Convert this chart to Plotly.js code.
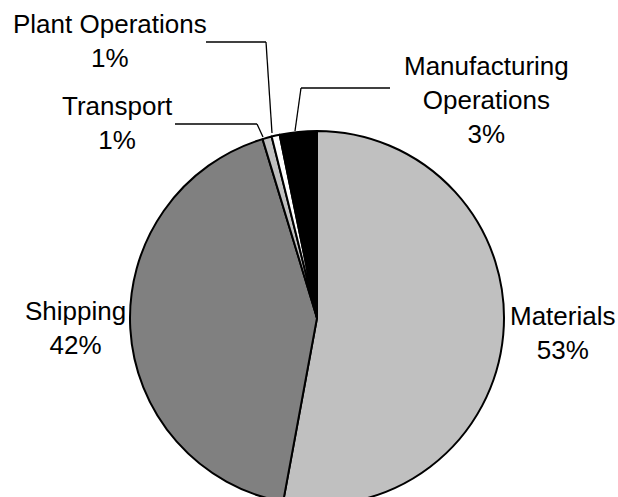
<!DOCTYPE html>
<html>
<head>
<meta charset="utf-8">
<script src="https://cdn.plot.ly/plotly-3.0.1.min.js"></script>
<style>
html,body{margin:0;padding:0;overflow:hidden;background:#fff;}
#chart{width:618px;height:540px;}
</style>
</head>
<body>
<div id="chart"></div>
<script>
const categories = ["Materials", "Shipping", "Transport", "Plant Operations", "Manufacturing Operations"];
const values = [52.9, 42.4, 0.8, 0.7, 3.2];
const colors = ["#c0c0c0", "#808080", "#c0c0c0", "#ffffff", "#000000"];
const labelText = ["Materials", "Shipping", "Transport", "Plant Operations", "Manufacturing<br>Operations"];

const W = 618, H = 540;
const px = x => x / W;
const py = y => (H - y) / H;

const total = values.reduce((a, b) => a + b, 0);
const pct = values.map(v => Math.round(v / total * 100) + "%");

// label placement (pixel positions of label block centres)
const labelPos = [
  {x: 562, y: 333},
  {x: 75, y: 328},
  {x: 117, y: 123},
  {x: 110, y: 41},
  {x: 486, y: 100}
];

const annotations = categories.map((c, i) => ({
  xref: "paper", yref: "paper",
  x: px(labelPos[i].x), y: py(labelPos[i].y),
  xanchor: "center", yanchor: "middle",
  text: labelText[i] + "<br>" + pct[i],
  showarrow: false,
  font: {family: "Liberation Sans, Arial, sans-serif", size: 26, color: "#000"}
}));

// leader lines
const leaders = [
  [[175,124],[257,124],[263,137]],
  [[206,42],[266,42],[272,133]],
  [[390,88],[301,88],[295,131]]
];
const shapes = [];
leaders.forEach(l => {
  for (let k = 0; k < l.length - 1; k++) {
    shapes.push({type: "line", xref: "paper", yref: "paper",
      x0: px(l[k][0]), y0: py(l[k][1]), x1: px(l[k+1][0]), y1: py(l[k+1][1]),
      line: {color: "#000", width: 1.3}});
  }
});

const cx = 317, cy = 318, r = 187;
const data = [{
  type: "pie",
  labels: categories,
  values: values,
  sort: false,
  direction: "clockwise",
  rotation: 0,
  textinfo: "none",
  hoverinfo: "label+percent",
  marker: {colors: colors, line: {color: "#000", width: 2}},
  domain: {x: [px(cx - r), px(cx + r)], y: [py(cy + r), py(cy - r)]},
  showlegend: false
}];

const layout = {
  width: W, height: H,
  margin: {l: 0, r: 0, t: 0, b: 0},
  paper_bgcolor: "#fff",
  showlegend: false,
  annotations: annotations,
  shapes: shapes
};

Plotly.newPlot("chart", data, layout, {displayModeBar: false, staticPlot: true});
</script>
</body>
</html>
